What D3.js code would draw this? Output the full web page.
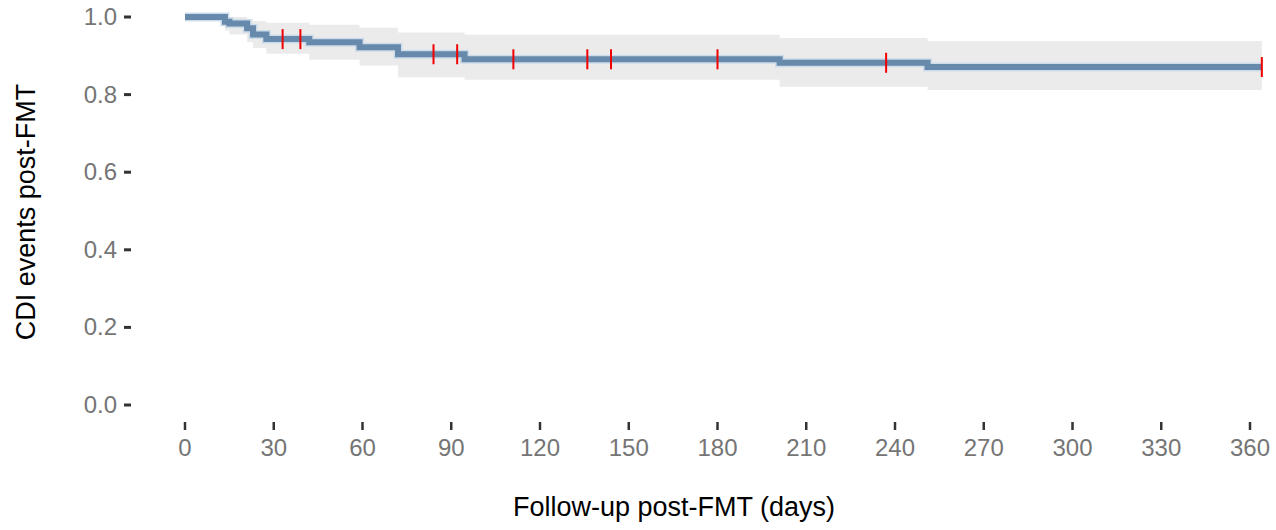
<!DOCTYPE html>
<html>
<head>
<meta charset="utf-8">
<script src="https://cdn.jsdelivr.net/npm/d3@7"></script>
<style>
  body { margin: 0; background: #fff; }
  svg { display: block; font-family: "Liberation Sans", Arial, sans-serif; }
</style>
</head>
<body>
<svg id="graph" width="1276" height="530"></svg>
<script>
// Kaplan-Meier step data (days, survival, 95% CI)
const times = [0, 13.5, 15, 21, 23, 27.5, 42, 59, 72, 94.5, 201, 251];
const surv  = [1.0, 0.988, 0.983, 0.971, 0.955, 0.943, 0.935, 0.922, 0.904, 0.891, 0.882, 0.871];
const upper = [1.0, 1.0, 1.0, 0.995, 0.99, 0.985, 0.98, 0.972, 0.96, 0.954, 0.946, 0.938];
const lower = [1.0, 0.965, 0.955, 0.935, 0.92, 0.905, 0.89, 0.875, 0.845, 0.838, 0.82, 0.812];
const endTime = 364;
const censorTimes = [33, 39, 84, 92, 111, 136, 144, 180, 237, 364];
const xTicks = [0, 30, 60, 90, 120, 150, 180, 210, 240, 270, 300, 330, 360];
const yTicks = [0, 0.2, 0.4, 0.6, 0.8, 1.0];

const svg = d3.select("#graph");

const x = d3.scaleLinear().domain([0, 360]).range([185, 1250]);
const y = d3.scaleLinear().domain([0, 1]).range([405, 17]);

// build step rows, closing at the end of follow-up
const rows = times.map((t, i) => ({t, s: surv[i], hi: upper[i], lo: lower[i]}));
rows.push({...rows[rows.length - 1], t: endTime});

const survAt = t => {
  let s = surv[0];
  times.forEach((tt, i) => { if (tt <= t) s = surv[i]; });
  return s;
};

// confidence band
const area = d3.area()
  .curve(d3.curveStepAfter)
  .x(d => x(d.t))
  .y0(d => y(d.lo))
  .y1(d => y(d.hi));

svg.append("path")
  .datum(rows)
  .attr("fill", "#ebebeb")
  .attr("d", area);

// survival line
const line = d3.line()
  .curve(d3.curveStepAfter)
  .x(d => x(d.t))
  .y(d => y(d.s));

svg.append("path")
  .datum(rows)
  .attr("fill", "none")
  .attr("stroke", "#cddcea")
  .attr("stroke-width", 9)
  .attr("d", line);

svg.append("path")
  .datum(rows)
  .attr("fill", "none")
  .attr("stroke", "#6789ab")
  .attr("stroke-width", 6)
  .attr("d", line);

// censor marks
svg.append("g")
  .selectAll("line")
  .data(censorTimes)
  .join("line")
  .attr("x1", d => x(d))
  .attr("x2", d => x(d))
  .attr("y1", d => y(survAt(d)) - 10)
  .attr("y2", d => y(survAt(d)) + 10)
  .attr("stroke", "#f00000")
  .attr("stroke-width", 2);

// Y axis ticks and labels
const yAxis = svg.append("g");
yAxis.selectAll("line")
  .data(yTicks)
  .join("line")
  .attr("x1", 124).attr("x2", 131)
  .attr("y1", d => y(d)).attr("y2", d => y(d))
  .attr("stroke", "#333")
  .attr("stroke-width", 3);
yAxis.selectAll("text")
  .data(yTicks)
  .join("text")
  .attr("x", 117)
  .attr("y", d => y(d) + 8)
  .attr("text-anchor", "end")
  .attr("fill", "#757575")
  .style("font-size", "24px")
  .text(d3.format(".1f"));

// X axis ticks and labels
const xAxis = svg.append("g");
xAxis.selectAll("line")
  .data(xTicks)
  .join("line")
  .attr("x1", d => x(d)).attr("x2", d => x(d))
  .attr("y1", 422).attr("y2", 430)
  .attr("stroke", "#333")
  .attr("stroke-width", 2.5);
xAxis.selectAll("text")
  .data(xTicks)
  .join("text")
  .attr("x", d => x(d))
  .attr("y", 456)
  .attr("text-anchor", "middle")
  .attr("fill", "#757575")
  .style("font-size", "24px")
  .text(d => d);

// axis titles
svg.append("text")
  .attr("x", 674)
  .attr("y", 516)
  .attr("text-anchor", "middle")
  .attr("fill", "#000")
  .style("font-size", "27px")
  .text("Follow-up post-FMT (days)");

svg.append("text")
  .attr("transform", "translate(35,212) rotate(-90)")
  .attr("text-anchor", "middle")
  .attr("fill", "#000")
  .style("font-size", "27px")
  .text("CDI events post-FMT");
</script>
</body>
</html>
